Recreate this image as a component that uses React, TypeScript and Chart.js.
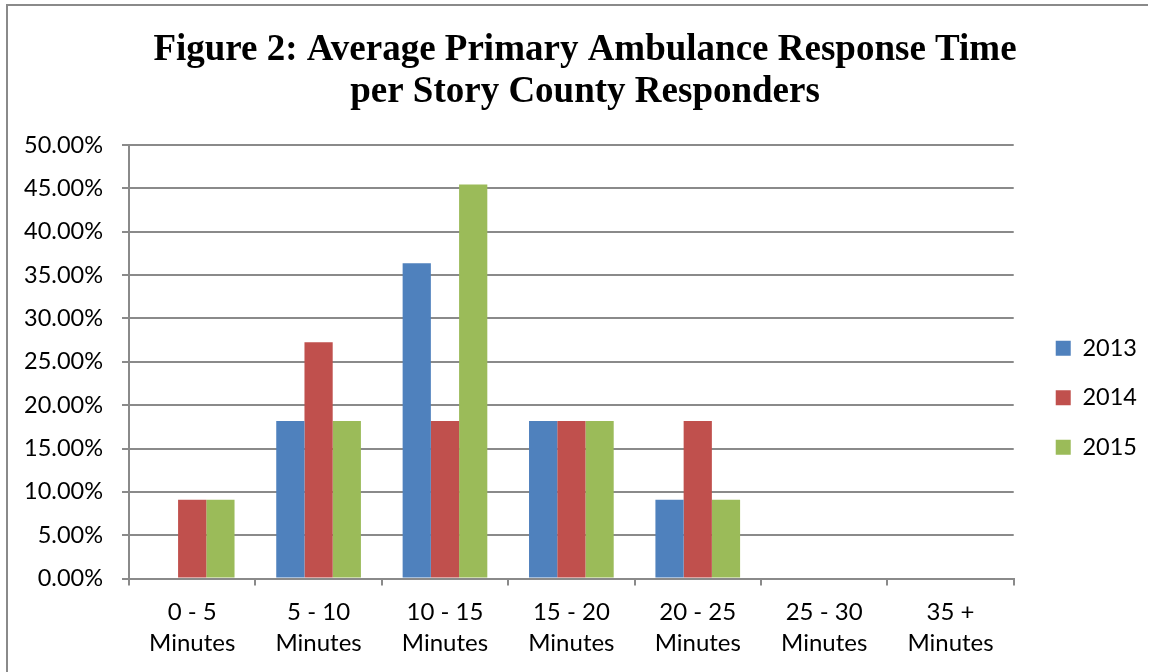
import React, { useEffect, useRef } from "react";
import { Chart, registerables } from "chart.js";

Chart.register(...registerables);

const titleLines = [
  "Figure 2: Average Primary Ambulance Response Time",
  "per Story County Responders",
];
const categories = [
  ["0 - 5", "Minutes"],
  ["5 - 10", "Minutes"],
  ["10 - 15", "Minutes"],
  ["15 - 20", "Minutes"],
  ["20 - 25", "Minutes"],
  ["25 - 30", "Minutes"],
  ["35 +", "Minutes"],
];
const seriesNames = ["2013", "2014", "2015"];
const values2013 = [0, 18.18, 36.36, 18.18, 9.09, 0, 0];
const values2014 = [9.09, 27.27, 18.18, 18.18, 18.18, 0, 0];
const values2015 = [9.09, 18.18, 45.45, 18.18, 9.09, 0, 0];
const seriesColors = ["#4F81BD", "#C0504D", "#9BBB59"];
const yMin = 0;
const yMax = 50;
const yStep = 5;

const GRID = "#8a8a8a";
const TICK_FONT = { family: "Lato", size: 23.5 };

export default function App() {
  const canvasRef = useRef<HTMLCanvasElement | null>(null);

  useEffect(() => {
    const canvas = canvasRef.current;
    if (!canvas) return;
    const allValues = [values2013, values2014, values2015];
    const chart = new Chart(canvas, {
      type: "bar",
      data: {
        labels: categories,
        datasets: seriesNames.map((name, i) => ({
          label: name,
          data: allValues[i],
          backgroundColor: seriesColors[i],
          borderWidth: 0,
          barPercentage: 1,
          categoryPercentage: 0.67,
        })),
      },
      options: {
        responsive: false,
        animation: false,
        layout: { padding: { left: 23, right: 8, top: 0, bottom: 2 } },
        plugins: {
          title: {
            display: true,
            text: titleLines,
            color: "#000",
            font: { family: "Liberation Serif", size: 37, weight: "bold", lineHeight: 1.16 },
            padding: { top: 28.5, bottom: 30.7 },
          },
          legend: {
            display: true,
            position: "right",
            fullSize: false,
            align: "center",
            title: { display: true, text: "", font: { size: 10, lineHeight: 1 }, padding: { top: 62, bottom: 0 } },
            labels: {
              color: "#000",
              font: TICK_FONT,
              boxWidth: 15,
              boxHeight: 15,
              padding: 26,
            },
          },
          tooltip: { enabled: false },
        },
        scales: {
          x: {
            offset: true,
            grid: {
              display: true,
              drawOnChartArea: false,
              drawTicks: true,
              tickLength: 7,
              color: GRID,
              lineWidth: 2,
              offset: true,
            },
            border: { display: true, color: GRID, width: 2 },
            ticks: {
              color: "#000",
              font: { family: "Lato", size: 24, lineHeight: 1.3 },
              padding: 11,
              maxRotation: 0,
              autoSkip: false,
            },
          },
          y: {
            min: yMin,
            max: yMax,
            grid: { color: GRID, lineWidth: 2, tickLength: 7, drawTicks: true },
            border: { display: true, color: GRID, width: 2 },
            ticks: {
              stepSize: yStep,
              color: "#000",
              font: TICK_FONT,
              padding: 19,
              callback: (v: any) => Number(v).toFixed(2) + "%",
            },
            afterFit: (s: any) => {
              s.width = 106;
            },
          },
          spacer: {
            type: "linear",
            position: "right",
            display: true,
            grid: { display: false, drawTicks: false },
            border: { display: false },
            ticks: { display: false },
            afterFit: (s: any) => {
              s.width = 16;
            },
          },
        },
      } as any,
    });
    return () => chart.destroy();
  }, []);

  return (
    <div style={{ position: "fixed", left: 0, top: 0, width: 1155, height: 672, overflow: "hidden", background: "#fff" }}>
      <div
        style={{
          position: "absolute",
          left: 6,
          top: 4,
          width: 1140,
          height: 700,
          borderTop: "2px solid #8a8a8a",
          borderLeft: "2px solid #8a8a8a",
        }}
      />
      <canvas
        ref={canvasRef}
        width={1155}
        height={672}
        style={{ position: "absolute", left: 0, top: 0, display: "block" }}
      />
    </div>
  );
}
